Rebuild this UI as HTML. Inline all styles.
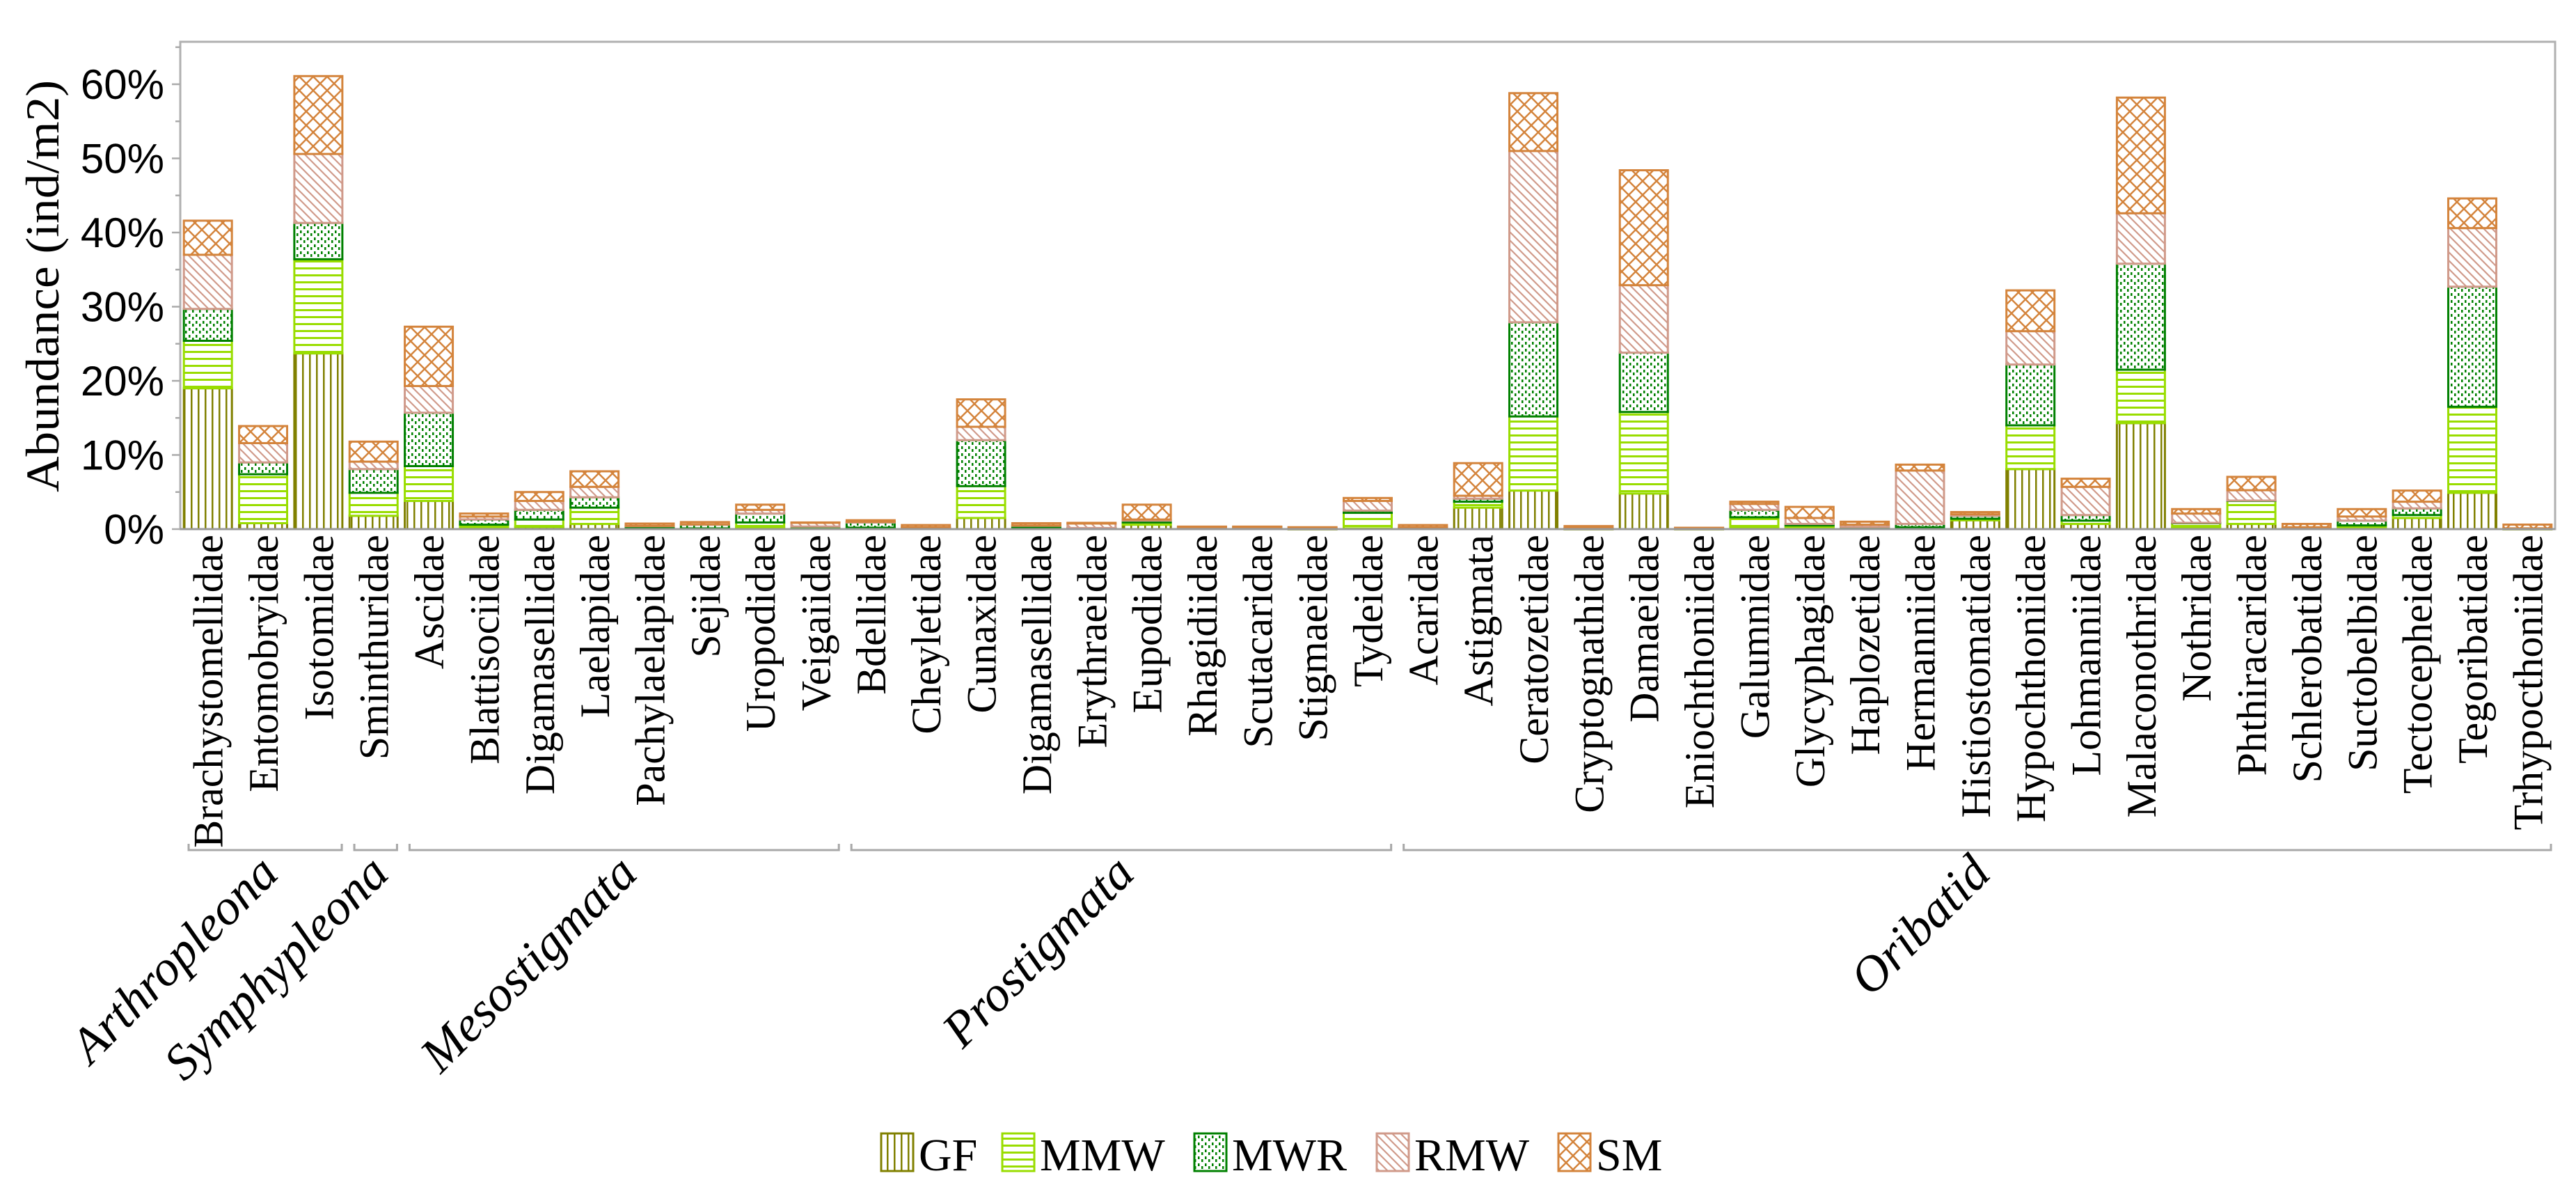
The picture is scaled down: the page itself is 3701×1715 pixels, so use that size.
<!DOCTYPE html>
<html><head><meta charset="utf-8"><style>
html,body{margin:0;padding:0;background:#fff;}
svg{display:block;}
</style></head><body>
<svg id="chart" width="3701" height="1715" viewBox="0 0 3701 1715" xmlns="http://www.w3.org/2000/svg">
<defs>
<pattern id="p-gf" patternUnits="userSpaceOnUse" width="10" height="10"><rect width="10" height="10" fill="#fff"/><rect x="4" y="0" width="2.5" height="10" fill="#808000"/></pattern>
<pattern id="p-mmw" patternUnits="userSpaceOnUse" width="10" height="10"><rect width="10" height="10" fill="#fff"/><rect x="0" y="4" width="10" height="3" fill="#99dd00"/></pattern>
<pattern id="p-mwr" patternUnits="userSpaceOnUse" width="10" height="10"><rect width="10" height="10" fill="#fff"/><rect x="1" y="1" width="2.5" height="4" fill="#008000"/><rect x="6" y="5" width="2.5" height="4" fill="#008000"/></pattern>
<pattern id="p-rmw" patternUnits="userSpaceOnUse" width="12" height="12"><rect width="12" height="12" fill="#fff"/><path d="M0,0 L12,12 M-6,6 L6,18 M6,-6 L18,6" stroke="#d09a8a" stroke-width="2.2"/></pattern>
<pattern id="p-sm" patternUnits="userSpaceOnUse" width="20" height="20"><rect width="20" height="20" fill="#fff"/><path d="M0,0 L20,20 M20,0 L0,20" stroke="#d4843c" stroke-width="2.5"/></pattern>
</defs>
<g id="plot"></g>
</svg>
<script>
const categories = ["Brachystomellidae","Entomobryidae","Isotomidae","Sminthuridae","Ascidae","Blattisociidae","Digamasellidae","Laelapidae","Pachylaelapidae","Sejidae","Uropodidae","Veigaiidae","Bdellidae","Cheyletidae","Cunaxidae","Digamasellidae","Erythraeidae","Eupodidae","Rhagidiidae","Scutacaridae","Stigmaeidae","Tydeidae","Acaridae","Astigmata","Ceratozetidae","Cryptognathidae","Damaeidae","Eniochthoniidae","Galumnidae","Glycyphagidae","Haplozetidae","Hermanniidae","Histiostomatidae","Hypochthoniidae","Lohmanniidae","Malaconothridae","Nothridae","Phthiracaridae","Schlerobatidae","Suctobelbidae","Tectocepheidae","Tegoribatidae","Trhypocthoniidae"];
const seriesNames = ["GF","MMW","MWR","RMW","SM"];
const gfValues  = [19.0,0.8,23.7,1.8,3.8,0.2,0.3,0.7,0.1,0.05,0.2,0.1,0.1,0.05,1.5,0.2,0.05,0.6,0.05,0.05,0.02,0.1,0.05,2.9,5.2,0.02,4.8,0.02,0.2,0.2,0.05,0.2,1.2,8.1,0.7,14.3,0.2,0.7,0.05,0.2,1.5,4.9,0.02];
const mmwValues = [6.4,6.6,12.7,3.1,4.7,0.4,1.0,2.2,0.1,0.05,0.7,0.2,0.1,0.05,4.3,0.05,0.05,0.3,0.05,0.05,0.02,2.1,0.05,0.8,10.0,0.02,11.0,0.02,1.4,0.3,0.05,0.05,0.2,5.9,0.45,7.2,0.6,3.1,0.05,0.3,0.4,11.6,0.02];
const mwrValues = [4.3,1.6,4.9,3.2,7.2,0.7,1.3,1.4,0.2,0.5,1.2,0.05,0.7,0.1,6.2,0.2,0.05,0.25,0.2,0.2,0.02,0.3,0.05,0.4,12.7,0.02,8.0,0.02,1.0,0.2,0.2,0.45,0.4,8.2,0.75,14.3,0.05,0.05,0.05,0.65,0.9,16.2,0.02];
const rmwValues = [7.3,2.6,9.3,1.0,3.6,0.4,1.2,1.4,0.05,0.05,0.5,0.5,0.1,0.05,1.8,0.05,0.6,0.15,0.02,0.02,0.05,1.3,0.1,0.4,23.1,0.1,9.1,0.1,0.8,0.8,0.3,7.2,0.2,4.5,3.8,6.8,1.25,1.4,0.1,0.55,0.9,7.9,0.05];
const smValues  = [4.6,2.3,10.5,2.7,8.0,0.4,1.2,2.1,0.3,0.3,0.7,0.05,0.2,0.3,3.7,0.3,0.1,2.0,0.02,0.02,0.15,0.4,0.3,4.4,7.8,0.25,15.5,0.02,0.3,1.5,0.4,0.8,0.3,5.5,1.1,15.6,0.6,1.8,0.45,1.0,1.5,4.0,0.5];
const yTicks = [0,10,20,30,40,50,60];
const yTickLabels = ["0%","10%","20%","30%","40%","50%","60%"];
const groupNames = ["Arthropleona","Symphypleona","Mesostigmata","Prostigmata","Oribatid"];
const groupStart = [0,3,4,12,22];
const groupEnd = [2,3,11,21,42];

const NS="http://www.w3.org/2000/svg";
const plot=document.getElementById('plot');
const X0=259,X1=3671,Y0=760,YTOP=60,PER10=106.5;
const band=(X1-X0)/categories.length, barW=69;
const yScale=v=>Y0-v*PER10/10;
const xCenter=i=>X0+band*(i+0.5);
function mk(tag,attrs,parent){const e=document.createElementNS(NS,tag);for(const k in attrs)e.setAttribute(k,attrs[k]);(parent||plot).appendChild(e);return e;}

// frame
const frame=mk('rect',{x:X0,y:YTOP,width:X1-X0,height:Y0-YTOP,fill:'none',stroke:'#b0b0b0','stroke-width':3});



const allSeries=[gfValues,mmwValues,mwrValues,rmwValues,smValues];
const fills=['url(#p-gf)','url(#p-mmw)','url(#p-mwr)','url(#p-rmw)','url(#p-sm)'];
const strokes=['#808000','#99dd00','#008000','#d09a8a','#d4843c'];
const bars=mk('g',{});


categories.forEach((c,i)=>{
  let cum=0;
  allSeries.forEach((s,k)=>{
    const v=s[i];const yb=yScale(cum);cum+=v;const yt=yScale(cum);
    const r=mk('rect',{x:xCenter(i)-barW/2,y:yt,width:barW,height:Math.max(yb-yt,0.5),fill:fills[k],stroke:strokes[k],'stroke-width':3},bars);
    
    
  });
});

// x axis line
const xa=mk('line',{x1:X0,y1:Y0,x2:X1,y2:Y0,stroke:'#999','stroke-width':3});



// y ticks
for(let v=0;v<=65;v+=5){
  const major=v%10===0;
  const t=mk('line',{x1:X0-(major?12:7),y1:yScale(v),x2:X0,y2:yScale(v),stroke:'#aaa','stroke-width':2.5});
  
  
}
yTicks.forEach((v,i)=>{
  const t=mk('text',{x:236,y:yScale(v)+21,'text-anchor':'end','font-family':'Liberation Sans, sans-serif','font-size':60,fill:'#000'});
  t.textContent=yTickLabels[i];
  
  
});
const yt=mk('text',{transform:'translate(84,411) rotate(-90)','text-anchor':'middle','font-family':'Liberation Serif, serif','font-size':68,textLength:592,lengthAdjust:'spacingAndGlyphs',fill:'#000'});
yt.textContent='Abundance (ind/m2)';



// category labels
categories.forEach((c,i)=>{
  const x=xCenter(i)+21;
  const t=mk('text',{transform:`translate(${x},768) rotate(-90)`,'text-anchor':'end','font-family':'Liberation Serif, serif','font-size':60,fill:'#000'});
  t.textContent=c;
  
  
});

// group brackets & labels
groupNames.forEach((g,k)=>{
  const a=X0+band*groupStart[k]+12, b=X0+band*(groupEnd[k]+1)-6, y=1221;
  const p=mk('path',{d:`M${a},${y-9} L${a},${y} L${b},${y} L${b},${y-9}`,fill:'none',stroke:'#a8a8a8','stroke-width':3});
  
  
  const cx=(a+b)/2+22;
  const t=mk('text',{transform:`translate(${cx},1258) rotate(-45)`,'text-anchor':'end','font-family':'Liberation Serif, serif','font-style':'italic','font-size':72,fill:'#000'});
  t.textContent=g;
  
  
});

// legend
const legX=[1266,1440,1716,1978,2239];
const leg=mk('g',{});


seriesNames.forEach((n,k)=>{
  const sw=mk('rect',{x:legX[k],y:1628,width:46,height:54,fill:fills[k],stroke:strokes[k],'stroke-width':3},leg);
  
  
  const t=mk('text',{x:legX[k]+54,y:1681,'font-family':'Liberation Serif, serif','font-size':66,fill:'#000'},leg);
  t.textContent=n;
  
  
});
</script>
</body></html>
